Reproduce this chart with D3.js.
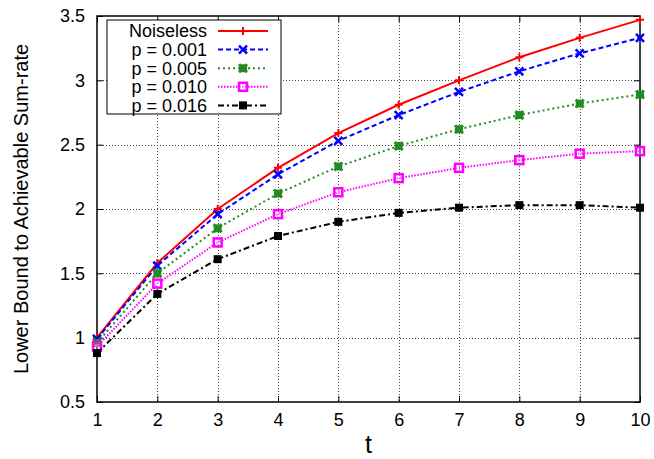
<!DOCTYPE html>
<html>
<head>
<meta charset="utf-8">
<script src="https://cdn.jsdelivr.net/npm/d3@7"></script>
<style>
  body { margin: 0; background: #fff; }
  svg text { font-family: "Liberation Sans", Arial, sans-serif; }
</style>
</head>
<body>
<div id="chart"></div>
<script>
// data
const tValues = [1, 2, 3, 4, 5, 6, 7, 8, 9, 10];
const noiseless = [1.00, 1.58, 2.00, 2.32, 2.59, 2.81, 3.00, 3.18, 3.33, 3.47];
const p001 = [0.99, 1.56, 1.96, 2.27, 2.53, 2.73, 2.91, 3.07, 3.21, 3.33];
const p005 = [0.96, 1.50, 1.85, 2.12, 2.33, 2.49, 2.62, 2.73, 2.82, 2.89];
const p010 = [0.93, 1.42, 1.74, 1.96, 2.13, 2.24, 2.32, 2.38, 2.43, 2.45];
const p016 = [0.88, 1.34, 1.61, 1.79, 1.90, 1.97, 2.01, 2.03, 2.03, 2.01];
const seriesNames = ["Noiseless", "p = 0.001", "p = 0.005", "p = 0.010", "p = 0.016"];
const yTicks = [0.5, 1, 1.5, 2, 2.5, 3, 3.5];

const width = 654;
const height = 459;
const margin = { top: 16, right: 14, bottom: 57, left: 97 };

const series = [
  { name: seriesNames[0], values: noiseless, color: "#ff0000", dash: null, marker: "plus" },
  { name: seriesNames[1], values: p001, color: "#0000ff", dash: "5,3", marker: "cross" },
  { name: seriesNames[2], values: p005, color: "#228b22", dash: "2,3", marker: "star" },
  { name: seriesNames[3], values: p010, color: "#ff00ff", dash: "1.5,1.5", marker: "box" },
  { name: seriesNames[4], values: p016, color: "#000000", dash: "6,3,2,3", marker: "fbox" }
];

const svg = d3.select("#chart")
    .append("svg")
    .attr("width", width)
    .attr("height", height);

const x = d3.scaleLinear()
    .domain([1, 10])
    .range([margin.left, width - margin.right]);

const y = d3.scaleLinear()
    .domain([0.5, 3.5])
    .range([height - margin.bottom, margin.top]);

const x0 = margin.left, x1 = width - margin.right;
const y0 = height - margin.bottom, y1 = margin.top;

// grid
const grid = svg.append("g")
    .attr("stroke", "#444")
    .attr("stroke-width", 1)
    .attr("stroke-dasharray", "1,2");

grid.selectAll(".gx")
    .data(tValues.slice(1, -1))
    .enter()
    .append("line")
    .attr("x1", d => Math.round(x(d)) + 0.5)
    .attr("x2", d => Math.round(x(d)) + 0.5)
    .attr("y1", y1)
    .attr("y2", y0);

grid.selectAll(".gy")
    .data(yTicks.slice(1, -1))
    .enter()
    .append("line")
    .attr("x1", x0)
    .attr("x2", x1)
    .attr("y1", d => Math.round(y(d)) + 0.5)
    .attr("y2", d => Math.round(y(d)) + 0.5);

// axes (ticks inside, mirrored)
const tickLen = 6;
const xAxis = d3.axisBottom(x).tickValues(tValues).tickSize(-tickLen).tickPadding(11).tickFormat(d3.format("d"));
const yAxis = d3.axisLeft(y).tickValues(yTicks).tickSize(-tickLen).tickPadding(12).tickFormat(d => d);

const gx = svg.append("g").attr("transform", `translate(0,${y0})`).call(xAxis);
const gy = svg.append("g").attr("transform", `translate(${x0},0)`).call(yAxis);
const gxTop = svg.append("g").attr("transform", `translate(0,${y1})`).call(d3.axisTop(x).tickValues(tValues).tickSize(-tickLen).tickFormat(""));
const gyRight = svg.append("g").attr("transform", `translate(${x1},0)`).call(d3.axisRight(y).tickValues(yTicks).tickSize(-tickLen).tickFormat(""));

[gx, gy, gxTop, gyRight].forEach(g => {
  g.select(".domain").remove();
  g.selectAll("line").attr("stroke", "#000");
  g.selectAll("text").attr("font-size", 18).attr("fill", "#000");
});
gx.selectAll("text").attr("dy", "0.71em");

// border
svg.append("rect")
    .attr("x", x0)
    .attr("y", y1)
    .attr("width", x1 - x0)
    .attr("height", y0 - y1)
    .attr("fill", "none")
    .attr("stroke", "#000")
    .attr("stroke-width", 1.5);

// axis labels
svg.append("text")
    .attr("x", (x0 + x1) / 2)
    .attr("y", 453)
    .attr("text-anchor", "middle")
    .attr("font-size", 25)
    .text("t");

svg.append("text")
    .attr("transform", `translate(28,${(y0 + y1) / 2}) rotate(-90)`)
    .attr("text-anchor", "middle")
    .attr("font-size", 20)
    .text("Lower Bound to Achievable Sum-rate");

// markers
function drawMarker(g, type, color, cx, cy) {
  const s = 4;
  if (type === "plus") {
    g.append("path").attr("d", `M${cx - s},${cy}H${cx + s}M${cx},${cy - s}V${cy + s}`)
      .attr("stroke", color).attr("stroke-width", 2).attr("fill", "none");
  } else if (type === "cross") {
    g.append("path").attr("d", `M${cx - s},${cy - s}L${cx + s},${cy + s}M${cx - s},${cy + s}L${cx + s},${cy - s}`)
      .attr("stroke", color).attr("stroke-width", 2.5).attr("fill", "none");
  } else if (type === "star") {
    g.append("path").attr("d", `M${cx - s},${cy}H${cx + s}M${cx},${cy - s}V${cy + s}M${cx - s},${cy - s}L${cx + s},${cy + s}M${cx - s},${cy + s}L${cx + s},${cy - s}`)
      .attr("stroke", color).attr("stroke-width", 3).attr("fill", "none");
  } else if (type === "box") {
    g.append("rect").attr("x", cx - s).attr("y", cy - s).attr("width", 2 * s).attr("height", 2 * s)
      .attr("stroke", color).attr("stroke-width", 2.5).attr("fill", "#fff").attr("fill-opacity", 0.3);
  } else if (type === "fbox") {
    g.append("rect").attr("x", cx - s).attr("y", cy - s).attr("width", 2 * s).attr("height", 2 * s)
      .attr("fill", color);
  }
}

const line = d3.line()
    .x((d, i) => x(tValues[i]))
    .y(d => y(d));

const plot = svg.append("g");
series.forEach(s => {
  const g = plot.append("g");
  g.append("path")
      .datum(s.values)
      .attr("d", line)
      .attr("fill", "none")
      .attr("stroke", s.color)
      .attr("stroke-width", 2)
      .attr("stroke-dasharray", s.dash);
  s.values.forEach((v, i) => drawMarker(g, s.marker, s.color, x(tValues[i]), y(v)));
});

// legend
const legend = svg.append("g");
legend.append("rect")
    .attr("x", 107)
    .attr("y", 20)
    .attr("width", 174)
    .attr("height", 94)
    .attr("fill", "#fff")
    .attr("stroke", "#000")
    .attr("stroke-width", 1);

series.forEach((s, i) => {
  const ly = 31 + i * 18.6;
  legend.append("text")
      .attr("x", 207)
      .attr("y", ly)
      .attr("dy", "0.36em")
      .attr("text-anchor", "end")
      .attr("font-size", 18)
      .text(s.name);
  legend.append("line")
      .attr("x1", 218)
      .attr("x2", 268)
      .attr("y1", ly)
      .attr("y2", ly)
      .attr("stroke", s.color)
      .attr("stroke-width", 2)
      .attr("stroke-dasharray", s.dash);
  drawMarker(legend, s.marker, s.color, 243, ly);
});
</script>
</body>
</html>
